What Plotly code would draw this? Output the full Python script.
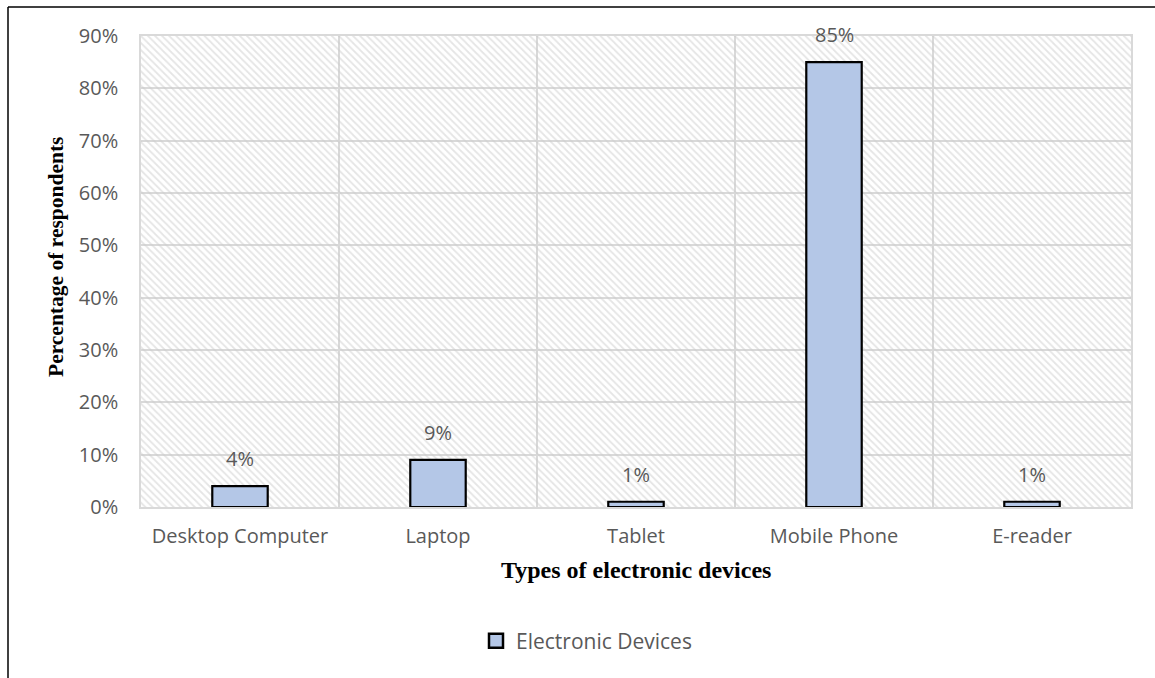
import plotly.graph_objects as go

categories = ["Desktop Computer", "Laptop", "Tablet", "Mobile Phone", "E-reader"]
values = [0.04, 0.09, 0.01, 0.85, 0.01]
value_labels = ["4%", "9%", "1%", "85%", "1%"]
series_name = "Electronic Devices"
x_title = "Types of electronic devices"
y_title = "Percentage of respondents"
y_max = 0.9
tick_vals = [0, 0.1, 0.2, 0.3, 0.4, 0.5, 0.6, 0.7, 0.8, 0.9]

W, H = 1155, 678
L, R, T, B = 141, 24, 36, 171
pw, ph = W - L - R, H - T - B

def px_x(p):
    return (p - L) / pw

def px_y(p):
    return (H - B - p) / ph

bar_color = "#b4c7e7"
tick_font = dict(family="Open Sans", size=20, color="#595959")

fig = go.Figure()
# hatched plot-area background
fig.add_trace(go.Bar(
    x=categories, y=[y_max] * len(categories), width=1,
    marker=dict(color="rgba(0,0,0,0)", line=dict(width=0),
                pattern=dict(shape="\\", fgcolor="#cbcbcb", bgcolor="rgba(0,0,0,0)",
                             size=5, solidity=0.35)),
    showlegend=False, hoverinfo="skip"))
fig.add_trace(go.Bar(
    x=categories, y=values, name=series_name, width=0.28, showlegend=False,
    marker=dict(color=bar_color, line=dict(color="black", width=2.2))))
# legend entry with a larger square swatch
fig.add_trace(go.Scatter(
    x=[None], y=[None], mode="markers", name=series_name,
    marker=dict(symbol="square", size=14, color=bar_color,
                line=dict(color="black", width=2.5))))

for c, v, t in zip(categories, values, value_labels):
    fig.add_annotation(x=c, y=v, text=t, showarrow=False, yanchor="bottom",
                       yshift=12, font=tick_font)

fig.add_annotation(xref="paper", yref="paper", x=px_x(636), y=px_y(570),
                   text="<b>%s</b>" % x_title, showarrow=False,
                   xanchor="center", yanchor="middle",
                   font=dict(family="Liberation Serif", size=24, color="black"))
fig.add_annotation(xref="paper", yref="paper", x=px_x(56), y=px_y(257),
                   text="<b>%s</b>" % y_title, showarrow=False, textangle=-90,
                   xanchor="center", yanchor="middle",
                   font=dict(family="Liberation Serif", size=21.5, color="black"))

fig.update_layout(
    width=W, height=H, barmode="overlay",
    margin=dict(l=L, r=R, t=T, b=B),
    paper_bgcolor="white", plot_bgcolor="rgba(0,0,0,0)",
    showlegend=True,
    legend=dict(orientation="h", x=px_x(476), xanchor="left", y=px_y(641), yanchor="middle",
                font=dict(family="Open Sans", size=21, color="#595959")),
    xaxis=dict(type="category", range=[-0.5, 4.5], tickson="boundaries",
               showgrid=True, gridcolor="#d9d9d9", gridwidth=1.5,
               showline=True, linecolor="#d9d9d9", linewidth=1.5, mirror=True,
               ticks="", tickfont=tick_font, ticklabelstandoff=10),
    yaxis=dict(range=[0, y_max], tickvals=tick_vals, tickformat=".0%",
               showgrid=True, gridcolor="#d9d9d9", gridwidth=1.5,
               showline=True, linecolor="#d9d9d9", linewidth=1.5, mirror=True,
               zeroline=False, ticks="", tickfont=tick_font, ticklabelstandoff=17),
)

# outer chart border (left and top edges visible)
x_left = px_x(8)
y_top = px_y(7)
fig.add_shape(type="line", xref="paper", yref="paper", x0=x_left, x1=x_left,
              y0=px_y(H + 10), y1=y_top, line=dict(color="black", width=1.5))
fig.add_shape(type="line", xref="paper", yref="paper", x0=x_left, x1=px_x(W + 10),
              y0=y_top, y1=y_top, line=dict(color="black", width=1.5))

fig.write_html("out.html")
